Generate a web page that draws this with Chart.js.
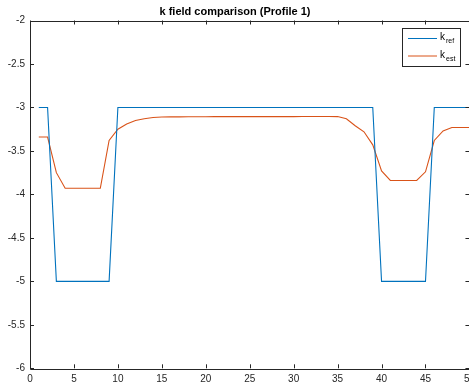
<!DOCTYPE html>
<html>
<head>
<meta charset="utf-8">
<script src="https://cdn.jsdelivr.net/npm/chart.js@4.4.1/dist/chart.umd.min.js"></script>
<style>
  html, body { margin: 0; padding: 0; background: #fff; overflow: hidden; width: 469px; height: 383px; }
  #wrap { position: relative; width: 480px; height: 383px; }
</style>
</head>
<body>
<div id="wrap"><canvas id="c" width="480" height="383"></canvas></div>
<script>
// Profile 1: reference and estimated k values at each cell index
const cellIndex = [1,2,3,4,5,6,7,8,9,10,11,12,13,14,15,16,17,18,19,20,21,22,23,24,25,
                   26,27,28,29,30,31,32,33,34,35,36,37,38,39,40,41,42,43,44,45,46,47,48,49,50];
const kRef = [-3,-3,-5,-5,-5,-5,-5,-5,-5,-3,-3,-3,-3,-3,-3,-3,-3,-3,-3,-3,-3,-3,-3,-3,-3,
              -3,-3,-3,-3,-3,-3,-3,-3,-3,-3,-3,-3,-3,-3,-5,-5,-5,-5,-5,-5,-3,-3,-3,-3,-3];
const kEst = [-3.34,-3.34,-3.75,-3.93,-3.93,-3.93,-3.93,-3.93,-3.38,-3.25,-3.19,-3.15,-3.13,-3.115,-3.11,
              -3.108,-3.108,-3.107,-3.107,-3.107,-3.106,-3.106,-3.106,-3.106,-3.105,-3.105,-3.105,-3.105,-3.105,-3.105,
              -3.104,-3.104,-3.104,-3.104,-3.105,-3.13,-3.21,-3.28,-3.43,-3.73,-3.84,-3.84,-3.84,-3.84,-3.74,
              -3.38,-3.27,-3.23,-3.23,-3.23];
const xTicks = [0,5,10,15,20,25,30,35,40,45,50];
const yTicks = [-6,-5.5,-5,-4.5,-4,-3.5,-3,-2.5,-2];
const titleText = 'k field comparison (Profile 1)';
const legendItems = [
  { base: 'k', sub: 'ref', color: '#0072BD' },
  { base: 'k', sub: 'est', color: '#D95319' }
];

const AX = '#262626';
const FONT = '"Liberation Sans", Arial, Helvetica, sans-serif';

// Box outline, inward ticks, title and legend drawn around the chart area
const decorations = {
  id: 'decorations',
  afterDraw(chart) {
    const { ctx, chartArea: a, scales: { x, y } } = chart;
    ctx.save();
    ctx.strokeStyle = AX;
    ctx.lineWidth = 1;
    ctx.beginPath();
    ctx.rect(Math.round(a.left) + 0.5, Math.round(a.top) + 0.5,
             Math.round(a.right - a.left), Math.round(a.bottom - a.top));
    ctx.stroke();
    const tl = 4;
    ctx.beginPath();
    xTicks.forEach(v => {
      const px = Math.round(x.getPixelForValue(v)) + 0.5;
      ctx.moveTo(px, a.bottom); ctx.lineTo(px, a.bottom - tl);
      ctx.moveTo(px, a.top); ctx.lineTo(px, a.top + tl);
    });
    yTicks.forEach(v => {
      const py = Math.round(y.getPixelForValue(v)) + 0.5;
      ctx.moveTo(a.left, py); ctx.lineTo(a.left + tl, py);
      ctx.moveTo(a.right, py); ctx.lineTo(a.right - tl, py);
    });
    ctx.stroke();

    // title
    ctx.fillStyle = '#000';
    ctx.font = 'bold 11px ' + FONT;
    ctx.textAlign = 'center';
    ctx.textBaseline = 'middle';
    ctx.fillText(titleText, 235, 12);

    // legend
    const lx = 402.5, ly = 28.5, lw = 58, lh = 38;
    ctx.fillStyle = '#fff';
    ctx.fillRect(lx, ly, lw, lh);
    ctx.strokeStyle = '#262626';
    ctx.lineWidth = 1;
    ctx.strokeRect(lx, ly, lw, lh);
    legendItems.forEach((it, i) => {
      const yy = 38.5 + i * 17.5;
      ctx.strokeStyle = it.color;
      ctx.lineWidth = 1;
      ctx.beginPath();
      ctx.moveTo(408, yy); ctx.lineTo(437, yy);
      ctx.stroke();
      ctx.fillStyle = '#000';
      ctx.textAlign = 'left';
      ctx.textBaseline = 'middle';
      ctx.font = '10px ' + FONT;
      ctx.fillText(it.base, 440, yy - 1);
      ctx.font = '7px ' + FONT;
      ctx.fillText(it.sub, 446, yy + 3);
    });
    ctx.restore();
  }
};

new Chart(document.getElementById('c'), {
  type: 'line',
  data: {
    datasets: [
      { label: 'k_ref', data: cellIndex.map((v, i) => ({ x: v, y: kRef[i] })),
        borderColor: '#0072BD', borderWidth: 1.1, pointRadius: 0, tension: 0, fill: false },
      { label: 'k_est', data: cellIndex.map((v, i) => ({ x: v, y: kEst[i] })),
        borderColor: '#D95319', borderWidth: 1.1, pointRadius: 0, tension: 0, fill: false }
    ]
  },
  options: {
    responsive: false,
    animation: false,
    devicePixelRatio: 1,
    layout: { padding: { top: 20.5, right: 10, left: 0, bottom: 0 } },
    plugins: { legend: { display: false }, title: { display: false }, tooltip: { enabled: false } },
    scales: {
      x: {
        type: 'linear', min: 0, max: 50,
        afterBuildTicks: s => { s.ticks = xTicks.map(v => ({ value: v })); },
        afterFit: s => { s.height = 14.7; },
        grid: { display: false, drawTicks: false },
        border: { display: false },
        ticks: { color: AX, font: { family: FONT, size: 10 }, padding: 5, maxRotation: 0, autoSkip: false,
                 callback: v => String(v) }
      },
      y: {
        type: 'linear', min: -6, max: -2,
        afterBuildTicks: s => { s.ticks = yTicks.map(v => ({ value: v })); },
        afterFit: s => { s.width = 30; },
        grid: { display: false, drawTicks: false },
        border: { display: false },
        ticks: { color: AX, font: { family: FONT, size: 10 }, padding: 5, autoSkip: false,
                 callback: v => String(v) }
      }
    }
  },
  plugins: [decorations]
});
</script>
</body>
</html>
